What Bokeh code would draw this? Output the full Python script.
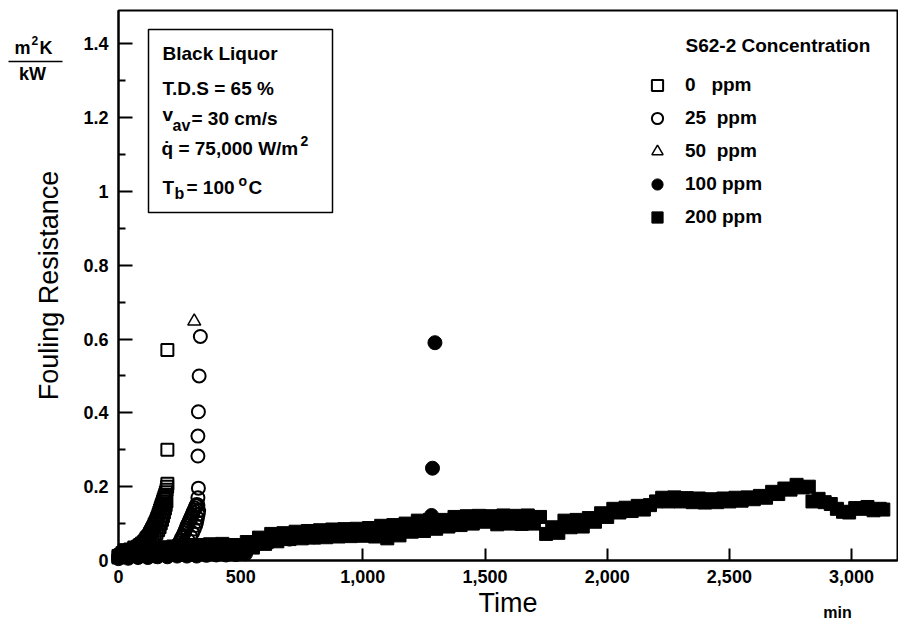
from bokeh.plotting import figure
from bokeh.models import (Range1d, FixedTicker, NumeralTickFormatter, Label, BoxAnnotation,
                          Arrow, Legend, LegendItem)
from bokeh.embed import file_html
from bokeh.resources import INLINE

# ---------------- data (time in min, fouling resistance in m2K/kW) ----------------
t_0ppm = [0, 8, 16, 24, 32, 40, 48, 56, 64, 72, 80, 88, 96, 104, 110, 115, 120, 125, 129, 133, 137, 141,
          145, 148, 152, 155, 158, 161, 164, 167, 170, 173, 176, 179, 182, 185, 188, 191, 194, 197, 199,
          200,
          130, 140, 148, 155, 162, 168, 173, 178, 182, 186, 190, 193, 196,
          200, 200]
r_0ppm = [0.008, 0.015, 0.02, 0.018, 0.025, 0.022, 0.03, 0.028, 0.035, 0.033, 0.038, 0.042, 0.046, 0.05,
          0.055, 0.06, 0.064, 0.068, 0.073, 0.078, 0.083, 0.088, 0.093, 0.098, 0.103, 0.108, 0.113, 0.118,
          0.124, 0.13, 0.136, 0.142, 0.148, 0.154, 0.16, 0.166, 0.172, 0.178, 0.185, 0.192, 0.2, 0.208,
          0.05, 0.058, 0.066, 0.074, 0.082, 0.09, 0.1, 0.11, 0.12, 0.13, 0.14, 0.15, 0.16,
          0.30, 0.57]

t_25ppm = [0, 50, 100, 150, 200, 210, 220, 228, 235, 242, 248, 254, 259, 264, 269, 273, 277, 281, 285, 289,
           293, 297, 301, 305, 309, 313, 317, 320,
           270, 285, 295, 303, 310, 316, 320, 323, 326, 328,
           325, 325, 327, 325, 325, 327, 330, 335]
r_25ppm = [0.01, 0.012, 0.015, 0.012, 0.015, 0.018, 0.024, 0.03, 0.036, 0.042, 0.048, 0.055, 0.062, 0.068,
           0.075, 0.082, 0.088, 0.095, 0.1, 0.106, 0.112, 0.118, 0.124, 0.13, 0.136, 0.142, 0.148, 0.152,
           0.045, 0.055, 0.065, 0.075, 0.085, 0.095, 0.105, 0.115, 0.125, 0.135,
           0.15, 0.17, 0.196, 0.283, 0.337, 0.403, 0.50, 0.607]

t_50ppm = [0, 40, 80, 120, 160, 200, 240, 280, 310]
r_50ppm = [0.005, 0.008, 0.01, 0.012, 0.015, 0.018, 0.02, 0.025, 0.648]

t_100ppm = [0, 40, 80, 120, 160, 200, 240, 280, 320, 360, 400, 440, 480, 520, 560, 620, 700, 800, 900,
            1000, 1100, 1200, 1281, 1285, 1295]
r_100ppm = [0.005, 0.006, 0.008, 0.008, 0.01, 0.01, 0.012, 0.012, 0.012, 0.014, 0.015, 0.015, 0.016,
            0.018, 0.04, 0.05, 0.058, 0.064, 0.068, 0.072, 0.078, 0.088, 0.122, 0.25, 0.59]

t_200ppm = [0, 25, 50, 75, 100, 125, 150, 175, 200, 225, 250, 275, 300, 325, 350, 375, 400, 425, 450, 475,
            500, 525, 550, 575, 600, 625, 650, 675, 700, 725, 750, 775, 800, 825, 850, 875, 900, 925, 950,
            975, 1000, 1025, 1050, 1075, 1100, 1125, 1150, 1175, 1200, 1225, 1250, 1275, 1300, 1325, 1350,
            1375, 1400, 1425, 1450, 1475, 1500, 1525, 1550, 1575, 1600, 1625, 1650, 1675, 1700, 1725, 1750,
            1775, 1800, 1825, 1850, 1875, 1900, 1925, 1950, 1975, 2000, 2025, 2050, 2075, 2100, 2125, 2150,
            2175, 2200, 2225, 2250, 2275, 2300, 2325, 2350, 2375, 2400, 2425, 2450, 2475, 2500, 2525, 2550,
            2575, 2600, 2625, 2650, 2675, 2700, 2725, 2750, 2775, 2800, 2825, 2840, 2865, 2890, 2915, 2940,
            2965, 2990, 3015, 3040, 3065, 3090, 3115, 3130]
r_200ppm = [0.012, 0.028, 0.015, 0.032, 0.018, 0.035, 0.02, 0.036, 0.022, 0.038, 0.024, 0.04, 0.026, 0.042,
            0.027, 0.044, 0.028, 0.045, 0.03, 0.042, 0.032, 0.05, 0.035, 0.062, 0.045, 0.072, 0.052, 0.074,
            0.058, 0.078, 0.06, 0.08, 0.062, 0.082, 0.063, 0.084, 0.065, 0.085, 0.066, 0.086, 0.067, 0.088,
            0.065, 0.094, 0.06, 0.096, 0.068, 0.1, 0.078, 0.108, 0.08, 0.11, 0.086, 0.11, 0.092, 0.118, 0.096,
            0.12, 0.1, 0.121, 0.105, 0.12, 0.098, 0.122, 0.1, 0.121, 0.099, 0.122, 0.1, 0.118, 0.072, 0.09,
            0.075, 0.108, 0.09, 0.11, 0.092, 0.115, 0.105, 0.128, 0.118, 0.14, 0.13, 0.143, 0.134, 0.148,
            0.138, 0.15, 0.16, 0.17, 0.16, 0.171, 0.16, 0.169, 0.158, 0.168, 0.157, 0.166, 0.158, 0.168, 0.16,
            0.17, 0.162, 0.171, 0.166, 0.175, 0.17, 0.186, 0.18, 0.195, 0.192, 0.205, 0.198, 0.2, 0.16, 0.167,
            0.158, 0.153, 0.14, 0.132, 0.13, 0.142, 0.14, 0.145, 0.136, 0.14, 0.138]

x_ticks = [0, 500, 1000, 1500, 2000, 2500, 3000]
y_ticks = [0, 0.2, 0.4, 0.6, 0.8, 1.0, 1.2, 1.4]
y_minor = [0.1, 0.3, 0.5, 0.7, 0.9, 1.1, 1.3]

# ---------------- geometry (canvas pixels) ----------------
W, H = 898, 621
XA, XB = 0, 3188          # data extent of the plotting box
YA, YB = 0, 1.49
FL, FR, FT, FB = 118, 897, 10, 560   # plotting box edges in canvas pixels
SX = (XB - XA) / (FR - FL)
SY = (YB - YA) / (FB - FT)

def px2x(px):
    return XA + (px - FL) * SX

def py2y(py):
    return YA + (FB - py) * SY

FONT = "Liberation Sans"
INK = "black"

p = figure(width=W, height=H, x_range=Range1d(px2x(0), px2x(W)), y_range=Range1d(py2y(H), py2y(0)),
           output_backend="svg", toolbar_location=None,
           min_border_left=0, min_border_right=0, min_border_top=0, min_border_bottom=0)
p.xgrid.visible = False
p.ygrid.visible = False
p.outline_line_color = None
p.background_fill_color = "white"
p.border_fill_color = "white"

xa = p.xaxis[0]
xa.fixed_location = YA
xa.bounds = (XA, XB)
xa.ticker = FixedTicker(ticks=x_ticks, minor_ticks=[])
xa.formatter = NumeralTickFormatter(format="0,0")
xa.axis_line_width = 2
xa.axis_line_color = INK
xa.major_tick_in = 12
xa.major_tick_out = 0
xa.major_tick_line_width = 2
xa.major_tick_line_color = INK
xa.minor_tick_line_color = None
xa.major_label_standoff = 9
xa.major_label_text_font = FONT
xa.major_label_text_font_style = "bold"
xa.major_label_text_font_size = "18px"
xa.major_label_text_color = INK
xa.axis_label = "Time"
xa.axis_label_text_font = FONT
xa.axis_label_text_font_style = "normal"
xa.axis_label_text_font_size = "27px"
xa.axis_label_text_color = INK
xa.axis_label_standoff = 2

ya = p.yaxis[0]
ya.fixed_location = XA
ya.bounds = (YA, YB)
ya.ticker = FixedTicker(ticks=y_ticks, minor_ticks=y_minor)
ya.formatter = NumeralTickFormatter(format="0.[0]")
ya.axis_line_width = 2
ya.axis_line_color = INK
ya.major_tick_in = 14
ya.major_tick_out = 0
ya.minor_tick_in = 7
ya.minor_tick_out = 0
ya.major_tick_line_width = 2
ya.minor_tick_line_width = 2
ya.major_tick_line_color = INK
ya.minor_tick_line_color = INK
ya.major_label_standoff = 10
ya.major_label_text_font = FONT
ya.major_label_text_font_style = "bold"
ya.major_label_text_font_size = "18px"
ya.major_label_text_color = INK
ya.axis_label = "Fouling Resistance"
ya.axis_label_text_font = FONT
ya.axis_label_text_font_style = "normal"
ya.axis_label_text_font_size = "27px"
ya.axis_label_text_color = INK
ya.axis_label_standoff = 16

# plotting box (top and right edges; left/bottom coincide with the axes)
p.add_layout(BoxAnnotation(left=XA, right=XB, bottom=YA, top=YB, fill_alpha=0,
                           line_color=INK, line_alpha=1, line_width=2))

# ---------------- series ----------------
r200 = p.scatter(t_200ppm, r_200ppm, marker="square", size=13, fill_color=INK, line_color=INK)
r100 = p.scatter(t_100ppm, r_100ppm, marker="circle", size=14, fill_color=INK, line_color=INK)
r50 = p.scatter(t_50ppm, r_50ppm, marker="triangle", size=13, fill_color=None, line_color=INK, line_width=1.5)
r25 = p.scatter(t_25ppm, r_25ppm, marker="circle", size=13, fill_color=None, line_color=INK, line_width=2)
r0 = p.scatter(t_0ppm, r_0ppm, marker="square", size=12, fill_color=None, line_color=INK, line_width=2)

NB = "\u00a0"
legend = Legend(items=[
    LegendItem(label="0" + NB * 3 + "ppm", renderers=[r0]),
    LegendItem(label="25" + NB * 2 + "ppm", renderers=[r25]),
    LegendItem(label="50" + NB * 2 + "ppm", renderers=[r50]),
    LegendItem(label="100 ppm", renderers=[r100]),
    LegendItem(label="200 ppm", renderers=[r200]),
], location=(643, H - 231), glyph_width=28, glyph_height=28, spacing=5, label_standoff=14,
   padding=0, margin=0, border_line_alpha=0, background_fill_alpha=0,
   label_text_font=FONT, label_text_font_style="bold", label_text_font_size="19px",
   label_text_color=INK, label_height=28)
p.add_layout(legend)


def lab(text, px, py, size="19px", style="bold", align="left"):
    p.add_layout(Label(x=px2x(px), y=py2y(py), text=text, text_font=FONT, text_font_size=size,
                       text_font_style=style, text_align=align, text_baseline="middle",
                       text_color=INK))

lab("S62-2 Concentration", 685, 45)

# info box
p.add_layout(BoxAnnotation(left=px2x(148), right=px2x(332), top=py2y(29), bottom=py2y(212),
                           fill_alpha=0, line_color=INK, line_alpha=1, line_width=1.5))
lab("Black Liquor", 162, 53)
lab("T.D.S = 65 %", 162, 88)
lab("v", 162, 114)
lab("av", 172, 125, size="16px")
lab("= 30 cm/s", 191, 118)
lab("q\u0307 = 75,000 W/m", 161, 148)
lab("2", 300, 140, size="14px")
lab("T", 162, 187)
lab("b", 174, 193, size="16px")
lab("= 100", 186, 187)
lab("o", 238, 180, size="14px")
lab("C", 248, 187)

# unit of the y axis
lab("m", 14, 47, size="18px")
lab("2", 31, 40, size="12px")
lab("K", 39, 47, size="18px")
p.add_layout(Arrow(end=None, x_start=px2x(8), y_start=py2y(61), x_end=px2x(62), y_end=py2y(61),
                   line_color=INK, line_width=1.5))
lab("kW", 32, 73, size="18px", align="center")

lab("min", 837, 612, size="16px", align="center")

open("out.html", "w").write(file_html(p, INLINE))
